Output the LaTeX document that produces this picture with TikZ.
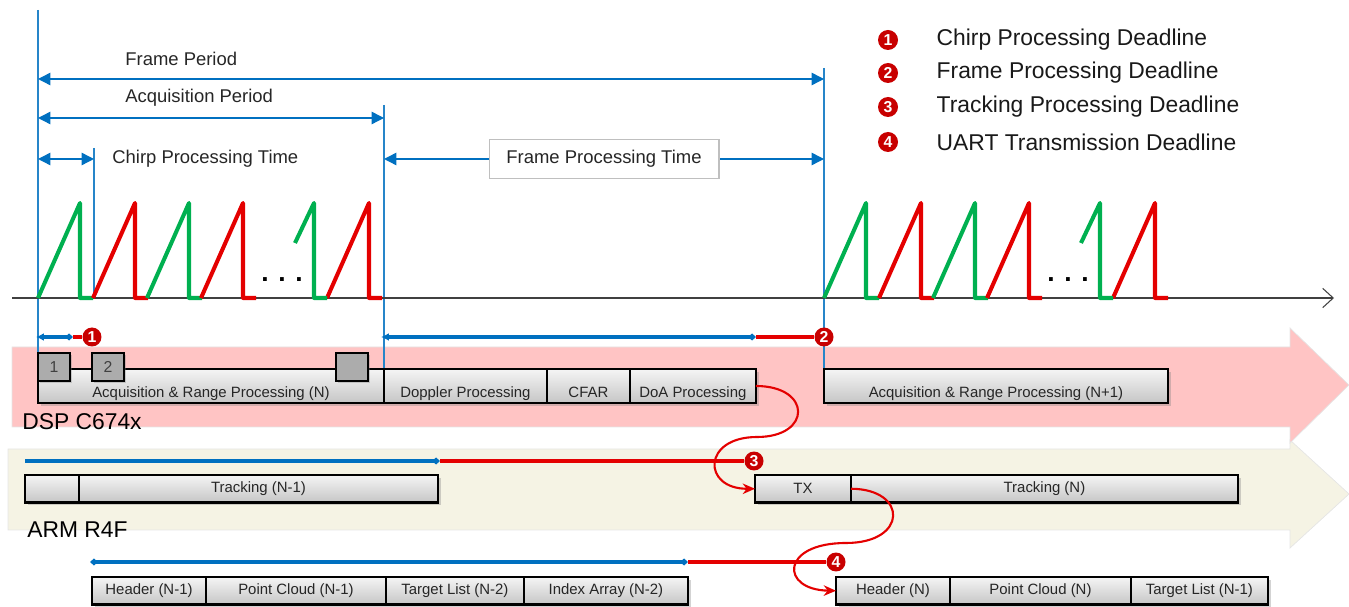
\documentclass[tikz,border=0pt]{standalone}
\usepackage{fontspec}
\setmainfont{Liberation Sans}
\usetikzlibrary{arrows.meta}
\usetikzlibrary{shadows}
\usetikzlibrary{positioning}

\definecolor{tiblue}{RGB}{0,112,192}
\definecolor{tired}{RGB}{228,0,0}
\definecolor{tigreen}{RGB}{0,176,80}
\definecolor{dlred}{RGB}{200,0,0}
\definecolor{dspfill}{RGB}{255,196,196}
\definecolor{armfill}{RGB}{245,243,228}

\begin{document}
\begin{tikzpicture}[x=0.02cm,y=-0.02cm,
		proc box/.style={draw=black,line width=1.2pt,top color=gray!8,bottom color=gray!45,
			inner sep=0pt,outer sep=0pt,font=\fontsize{8.5}{9}\selectfont,text=black!85,
			drop shadow={shadow xshift=1.5pt,shadow yshift=-1.5pt,opacity=0.35}},
		dsp box/.style={proc box,minimum height=0.68cm,text height=13pt,text depth=0pt},
		arm box/.style={proc box,minimum height=0.55cm},
		chirp box/.style={draw=black,line width=1.2pt,fill=gray!65,inner sep=0pt,outer sep=0pt,
			minimum width=0.64cm,minimum height=0.56cm,anchor=north west,
			font=\fontsize{9}{10}\selectfont,text=black!75,
			drop shadow={shadow xshift=1.2pt,shadow yshift=-1.2pt,opacity=0.35}},
		deadline node/.style={circle,fill=dlred,text=white,inner sep=0pt,minimum size=0.38cm,
			font=\fontsize{9}{9}\selectfont\bfseries},
		key text/.style={font=\fontsize{13}{15}\selectfont,text=black!90,inner sep=0pt,anchor=west},
		dim text/.style={font=\fontsize{10.5}{12}\selectfont,text=black!85,inner sep=0pt,anchor=west},
		cpu label/.style={font=\fontsize{13}{15}\selectfont,text=black,inner sep=0pt,anchor=west},
		vline/.style={tiblue!85,line width=0.6pt},
		dim line/.style={tiblue,line width=0.8pt,{Triangle[length=7pt,width=7pt]}-{Triangle[length=7pt,width=7pt]}},
		fpt box/.style={draw=gray!50,fill=white,line width=0.6pt,minimum width=4.6cm,minimum height=0.78cm,
			font=\fontsize{10.5}{12}\selectfont,text=black!85},
		chirp/.style={line width=2.3pt,line join=round},
		axis/.style={black!75,line width=0.6pt,-{Straight Barb[length=6pt,width=11pt]}},
		dl blue/.style={draw=tiblue,line width=2.2pt},
		dl red/.style={draw=tired,line width=2.2pt},
		flow/.style={draw=tired,line width=1.2pt,-{Stealth[length=7pt,width=6pt]}}]

		\useasboundingbox (0,0) rectangle (1349,607);

		\fill[armfill,draw=gray!20] (8,449) -- (1290,449) -- (1290,440) -- (1349,494) -- (1290,548)
			-- (1290,530) -- (8,530) -- cycle;
		\fill[dspfill,draw=gray!20] (12,347) -- (1290,347) -- (1290,328) -- (1349,385) -- (1290,443)
			-- (1290,427) -- (12,427) -- cycle;
		\node[cpu label] (dsplabel) at (22,422) {DSP C674x};
		\node[cpu label] (armlabel) at (27,530) {ARM R4F};

		\draw[vline] (38,10) -- (38,353);
		\draw[vline] (94,148) -- (94,298);
		\draw[vline] (384,105) -- (384,369);
		\draw[vline] (824,68) -- (824,369);

		\coordinate (fpL) at (38,79);
		\coordinate (fpR) at (824,79);
		\coordinate (apL) at (38,118);
		\coordinate (apR) at (384,118);
		\coordinate (cpL) at (38,159);
		\coordinate (cpR) at (94,159);
		\coordinate (fptL) at (384,159);
		\coordinate (fptR) at (824,159);
		\draw[dim line] (fpL) -- (fpR);
		\draw[dim line] (apL) -- (apR);
		\draw[dim line] (cpL) -- (cpR);
		\draw[dim line] (fptL) -- (fptR) node[midway,fpt box] (fpt) {Frame Processing Time};
		\node[dim text] (fptext) at (125,59) {Frame Period};
		\node[dim text] (aptext) at (125,98) {Acquisition Period};
		\node[dim text] (cptext) at (112,159) {Chirp Processing Time};

		\coordinate (ax0) at (12,298);
		\coordinate (ax1) at (1334,298);
		\draw[axis] (ax0) -- (ax1);

		\foreach \s in {38,824} {
			\begin{scope}[shift={(\s,0)}]
				\foreach \a/\c in {0/tigreen,55/tired,109/tigreen,163/tired,289/tired}
					\draw[chirp,\c] (\a,298) -- ++(42,-95) -- ++(0,95) -- ++(13,0);
				\draw[chirp,tigreen] (257,243) -- (276,203) -- (276,298) -- (289,298);
				\node[font=\fontsize{15}{15}\selectfont\bfseries,anchor=base] (dots\s) at (244,282) {. . .};
			\end{scope}
		}

		\node[dsp box,minimum width=6.92cm,anchor=north west] (acqN) at (38,369) {Acquisition \& Range Processing (N)};
		\node[dsp box,minimum width=3.26cm,right=0pt of acqN] (doppler) {Doppler Processing};
		\node[dsp box,minimum width=1.66cm,right=0pt of doppler] (cfar) {CFAR};
		\node[dsp box,minimum width=2.52cm,right=0pt of cfar] (doa) {DoA Processing};
		\node[dsp box,minimum width=6.88cm,anchor=north west] (acqN1) at (824,369) {Acquisition \& Range Processing (N+1)};
		\node[chirp box] (sq1) at (38,353) {1};
		\node[chirp box] (sq2) at (92,353) {2};
		\node[chirp box] (sq3) at (336,353) {};

		\node[arm box,minimum width=1.08cm,anchor=north west] (armidle) at (25,475) {};
		\node[arm box,minimum width=7.18cm,right=0pt of armidle] (trackN1) {Tracking (N-1)};
		\node[arm box,minimum width=1.92cm,anchor=north west] (tx) at (755,475) {TX};
		\node[arm box,minimum width=7.74cm,right=0pt of tx] (trackN) {Tracking (N)};

		\node[arm box,minimum width=2.28cm,anchor=north west] (hdrN1) at (92,577) {Header (N-1)};
		\node[arm box,minimum width=3.6cm,right=0pt of hdrN1] (pcN1) {Point Cloud (N-1)};
		\node[arm box,minimum width=2.76cm,right=0pt of pcN1] (tlN2) {Target List (N-2)};
		\node[arm box,minimum width=3.28cm,right=0pt of tlN2] (iaN2) {Index Array (N-2)};
		\node[arm box,minimum width=2.28cm,anchor=north west] (hdrN) at (836,577) {Header (N)};
		\node[arm box,minimum width=3.62cm,right=0pt of hdrN] (pcN) {Point Cloud (N)};
		\node[arm box,minimum width=2.74cm,right=0pt of pcN] (tlN1) {Target List (N-1)};

		\node[deadline node] (dl1) at (92,337) {1};
		\node[deadline node] (dl2) at (824,337) {2};
		\node[deadline node] (dl3) at (754,461) {3};
		\node[deadline node] (dl4) at (836,562) {4};
		\coordinate (b1s) at (36,337);
		\coordinate (b1e) at (73,337);
		\coordinate (b2s) at (381,337);
		\coordinate (b2e) at (756,337);
		\coordinate (b3s) at (25,461);
		\coordinate (b3e) at (440,461);
		\coordinate (b4s) at (90,562);
		\coordinate (b4e) at (688,562);
		\draw[dl red] (b1e) -- (dl1);
		\draw[dl red] (b2e) -- (dl2);
		\draw[dl red] (b3e) -- (dl3);
		\draw[dl red] (b4e) -- (dl4);
		\draw[dl blue,{Latex[length=4.5pt,width=4.5pt]}-{Diamond[length=4.5pt,width=4pt]}] (b1s) -- (b1e);
		\draw[dl blue,{Latex[length=4.5pt,width=4.5pt]}-{Diamond[length=4.5pt,width=4pt]}] (b2s) -- (b2e);
		\draw[dl blue,-{Diamond[length=4.5pt,width=4pt]}] (b3s) -- (b3e);
		\draw[dl blue,{Diamond[length=4.5pt,width=4pt]}-{Diamond[length=4.5pt,width=4pt]}] (b4s) -- (b4e);

		\draw[flow] (doa.east) .. controls (812,386) and (812,437) .. (757,437)
			.. controls (702,437) and (702,489) .. (tx.west);
		\draw[flow] (tx.east) .. controls (908,489) and (908,543) .. (846,543)
			.. controls (780,543) and (780,590) .. (hdrN.west);

		\node[deadline node,minimum size=0.4cm] (key1) at (888,40) {1};
		\node[deadline node,minimum size=0.4cm] (key2) at (888,73) {2};
		\node[deadline node,minimum size=0.4cm] (key3) at (888,107) {3};
		\node[deadline node,minimum size=0.4cm] (key4) at (888,142) {4};
		\node[key text,right=0.76cm of key1] (key1text) {Chirp Processing Deadline};
		\node[key text,right=0.76cm of key2] (key2text) {Frame Processing Deadline};
		\node[key text,right=0.76cm of key3] (key3text) {Tracking Processing Deadline};
		\node[key text,right=0.76cm of key4] (key4text) {UART Transmission Deadline};
\end{tikzpicture}
\end{document}
